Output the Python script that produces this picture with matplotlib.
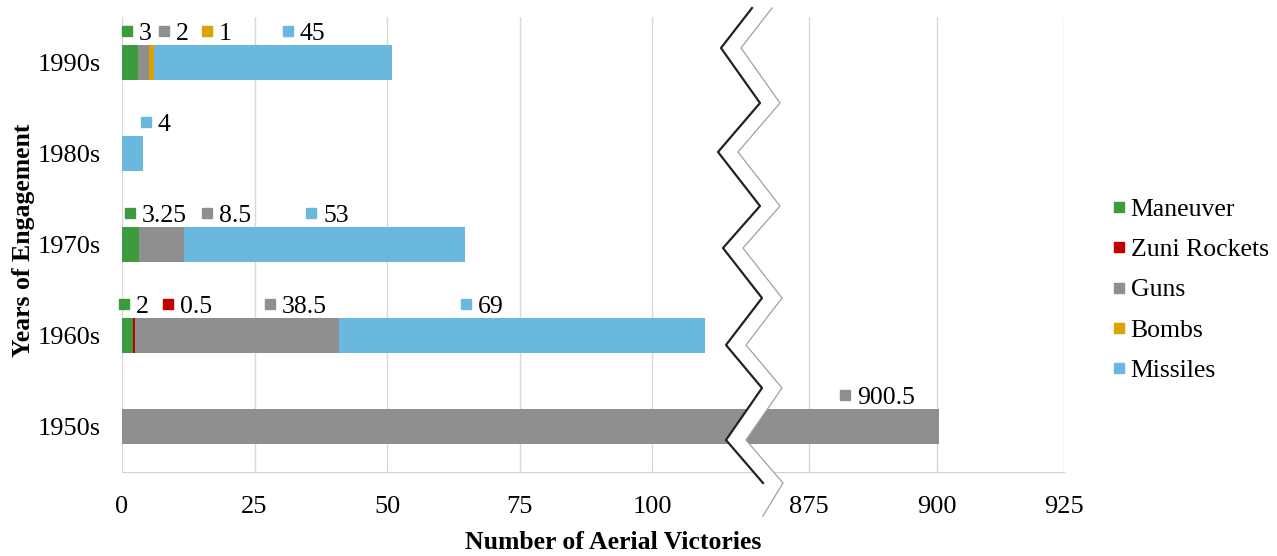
import numpy as np
import matplotlib
matplotlib.use('Agg')
import matplotlib.pyplot as plt
from matplotlib.patches import Polygon
from matplotlib.lines import Line2D

plt.rcParams['font.family'] = ['Liberation Serif', 'DejaVu Serif']

# Aerial victories by decade and method
decades = ['1950s', '1960s', '1970s', '1980s', '1990s']
methods = ['Maneuver', 'Zuni Rockets', 'Guns', 'Bombs', 'Missiles']
maneuver = [0, 2, 3.25, 0, 3]
zuni = [0, 0.5, 0, 0, 0]
guns = [900.5, 38.5, 8.5, 0, 2]
bombs = [0, 0, 0, 0, 1]
missiles = [0, 69, 53, 4, 45]
values = [maneuver, zuni, guns, bombs, missiles]
colors = ['#3d9a3d', '#c00000', '#8f8f8f', '#d9a400', '#6bb8de']

xticks = [0, 25, 50, 75, 100, 875, 900, 925]

# where each value label sits (x in data units), per decade
label_x = {
    '1950s': {'Guns': 882},
    '1960s': {'Maneuver': 0.4, 'Zuni Rockets': 8.7, 'Guns': 27.9, 'Missiles': 64.9},
    '1970s': {'Maneuver': 1.5, 'Guns': 16, 'Missiles': 35.7},
    '1980s': {'Missiles': 4.5},
    '1990s': {'Maneuver': 0.9, 'Guns': 7.9, 'Bombs': 16, 'Missiles': 31.3},
}

FS = 18.5


# broken axis: 0-120 as is, 120-875 squeezed, 875+ slightly narrower
def fwd(v):
    v = np.asarray(v, dtype=float)
    return np.where(v <= 120, v,
                    np.where(v >= 875, 129.6 + (v - 875) * 0.962,
                             120 + (v - 120) * (9.6 / 755)))


def inv(p):
    p = np.asarray(p, dtype=float)
    return np.where(p <= 120, p,
                    np.where(p >= 129.6, 875 + (p - 129.6) / 0.962,
                             120 + (p - 120) * (755 / 9.6)))


W, H = 1277, 556
fig = plt.figure(figsize=(W / 100, H / 100), dpi=100)
ax = fig.add_axes([122 / W, 1 - 472 / H, (1064 - 122) / W, (472 - 17) / H])
ax.set_xscale('function', functions=(fwd, inv))

y = np.arange(len(decades))
left = np.zeros(len(decades))
for name, vals, c in zip(methods, values, colors):
    ax.barh(y, vals, left=left, height=0.38, color=c, zorder=2)
    left += np.array(vals)

# value labels with a small colour key
for i, dec in enumerate(decades):
    for name, xpos in label_x[dec].items():
        k = methods.index(name)
        v = values[k][i]
        ax.plot(xpos, i + 0.35, marker='s', ms=7.5, color=colors[k],
                linestyle='none', zorder=3, clip_on=False)
        ax.annotate(f'{v:g}', (xpos, i + 0.35), xytext=(12, -3),
                    textcoords='offset pixels', va='center', ha='left',
                    fontsize=FS, zorder=3)

ax.set_xlim(0, 925)
ax.set_ylim(-0.5, 4.5)
ax.set_xticks(xticks)
ax.set_xticklabels([str(t) for t in xticks])
ax.set_yticks(y)
ax.set_yticklabels(decades)
ax.tick_params(axis='both', length=0, labelsize=19)
ax.tick_params(axis='x', pad=17)
ax.tick_params(axis='y', pad=15)
ax.grid(axis='x', color='#d9d9d9', linewidth=1, zorder=0)
ax.set_axisbelow(True)
for s in ['top', 'right', 'left']:
    ax.spines[s].set_visible(False)
ax.spines['bottom'].set_color('#d0d0d0')

ax.set_xlabel('Number of Aerial Victories', fontsize=FS, fontweight='bold', va='center')
ax.xaxis.set_label_coords(0.521, -0.156)
ax.set_ylabel('Years of Engagement', fontsize=FS, fontweight='bold', va='center')
ax.yaxis.set_label_coords(-0.105, 0.51)

handles = [Line2D([], [], marker='s', ms=6.5, color=c, linestyle='none') for c in colors]
fig.legend(handles, methods, loc='center left', bbox_to_anchor=(1101 / W, 1 - 290 / H),
           frameon=False, fontsize=FS, handlelength=0.6, handletextpad=0.15,
           labelspacing=0.68, borderaxespad=0)

# zigzag break band
zl = [(752, 8), (721, 48), (760, 103), (718, 152), (760, 206), (723, 248),
      (762, 298), (726, 345), (762, 388), (726, 440), (763, 483)]
zr = [(x + 20, yy) for x, yy in zl]
band = zl + [(763, 516)] + zr[::-1]
to_fig = lambda pts: [(px / W, 1 - py / H) for px, py in pts]
fig.add_artist(Polygon(to_fig(band), closed=True, facecolor='white',
                       edgecolor='none', transform=fig.transFigure, zorder=10))
lx, ly = zip(*to_fig(zl))
fig.add_artist(Line2D(lx, ly, color='#222222', lw=1.6, transform=fig.transFigure, zorder=11))
rx, ry = zip(*to_fig(zr + [(763, 516)]))
fig.add_artist(Line2D(rx, ry, color='#a0a0a0', lw=0.9, transform=fig.transFigure, zorder=11))

fig.savefig('out.png', dpi=100)
